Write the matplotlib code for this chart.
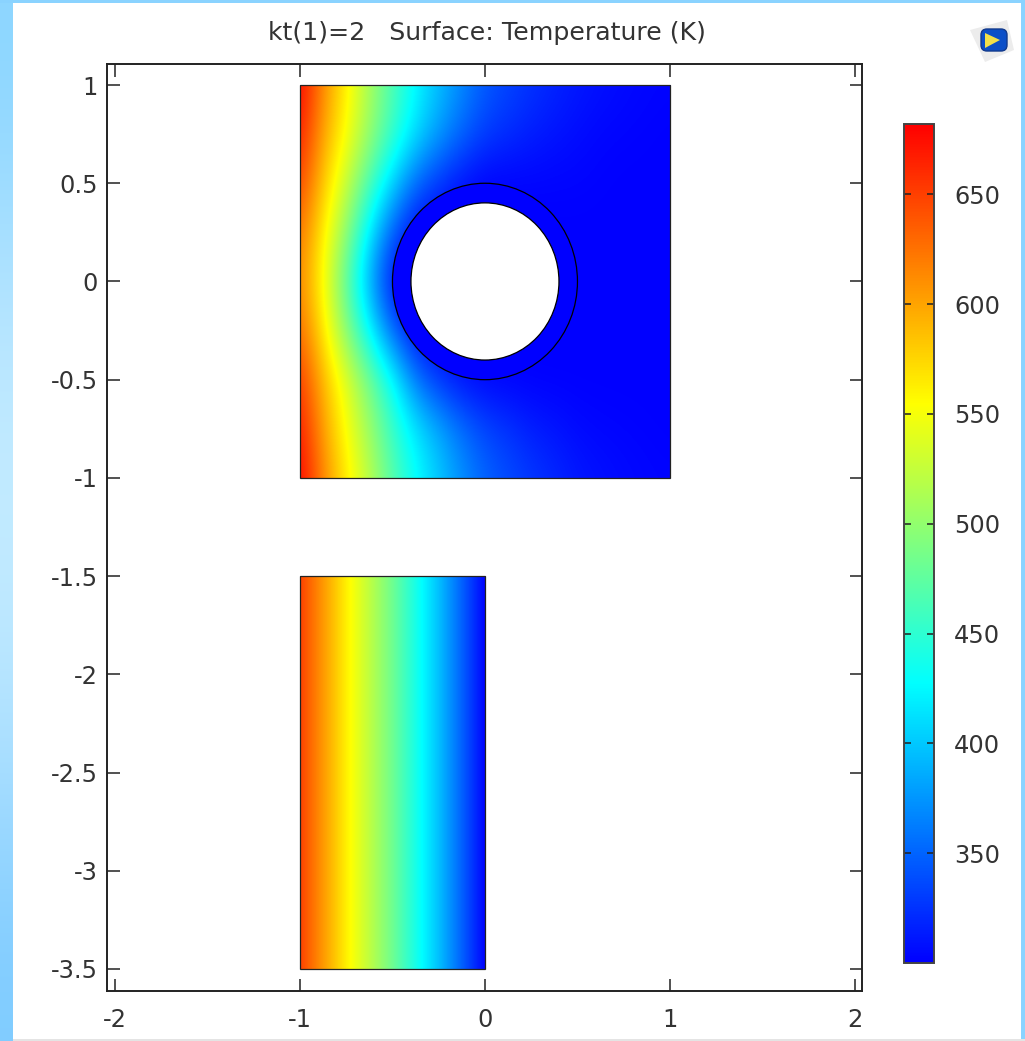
import matplotlib
matplotlib.use('Agg')
import matplotlib.pyplot as plt
from matplotlib.cm import ScalarMappable
from matplotlib.colors import LinearSegmentedColormap, Normalize
from matplotlib.patches import Circle, FancyBboxPatch, Polygon, Rectangle
import numpy as np

# temperature read off the square block, rows go from y=1 down to y=-1,
# columns from x=-1 to x=1 in steps of 0.125
square_t = [
    [682, 612, 562, 510, 465, 425, 395, 368, 345, 334, 325, 318, 312, 308, 305, 303, 302],
    [668, 600, 553, 503, 455, 411, 378, 350, 330, 322, 315, 310, 306, 303, 302, 301, 300],
    [650, 582, 527, 465, 405, 352, 325, 308, 300, 301, 302, 302, 302, 301, 300, 300, 300],
    [625, 563, 498, 418, 345, 302, 300, 300, 300, 300, 300, 300, 300, 300, 300, 300, 300],
    [615, 553, 473, 385, 305, 300, 300, 300, 300, 300, 300, 300, 300, 300, 300, 300, 300],
    [630, 566, 495, 425, 350, 302, 300, 300, 300, 300, 300, 300, 300, 300, 300, 300, 300],
    [655, 590, 540, 485, 430, 360, 325, 308, 302, 301, 300, 300, 300, 300, 300, 300, 300],
    [670, 602, 552, 505, 455, 415, 385, 355, 335, 325, 315, 310, 305, 303, 302, 301, 300],
    [682, 614, 565, 520, 470, 430, 400, 372, 350, 338, 328, 320, 312, 308, 305, 303, 302],
]
# lower block only changes along x, from x=-1 to x=0 in steps of 0.25
strip_t = [650, 562, 482, 395, 300]

x_ticks = [-2, -1, 0, 1, 2]
x_labels = ['-2', '-1', '0', '1', '2']
y_ticks = [1, .5, 0, -.5, -1, -1.5, -2, -2.5, -3, -3.5]
y_labels = ['1', '0.5', '0', '-0.5', '-1', '-1.5', '-2', '-2.5', '-3', '-3.5']
bar_ticks = [350, 400, 450, 500, 550, 600, 650]
t_min, t_max = 300, 682

W, H = 1025, 1041
text_col = '#333333'
line_col = '#222222'
tick_size = 17.4
title_size = 18.2


def px_axes(left, top, right, bottom, **kw):
    return fig.add_axes([left / W, 1 - bottom / H, (right - left) / W, (bottom - top) / H], **kw)


cmap = LinearSegmentedColormap.from_list('rainbow', ['#0000ff', '#00ffff', '#ffff00', '#ff0000'], N=512)
norm = Normalize(t_min, t_max)

fig = plt.figure(figsize=(W / 100, H / 100), dpi=100)

# window border and the little logo
deco = px_axes(0, 0, W, H)
band = np.array([[0.55, 0.84, 1.0], [0.72, 0.90, 1.0], [0.78, 0.93, 1.0], [0.70, 0.89, 1.0], [0.50, 0.80, 1.0]])
deco.imshow(band[:, None, :], extent=(0, 13, H, 0), aspect='auto', interpolation='bicubic')
deco.add_patch(Rectangle((0, 0), W, 3, color='#8ad3ff', lw=0))
deco.add_patch(Rectangle((W - 4, 0), 4, H, color='#8ad3ff', lw=0))
deco.add_patch(Rectangle((13, H - 2), W, 2, color='#e4e4e4', lw=0))
deco.add_patch(Polygon([[970, 30], [1007, 20], [1014, 50], [985, 62]], color='#ececec', lw=0))
deco.add_patch(FancyBboxPatch((981, 29), 26, 22, boxstyle='round,pad=0,rounding_size=6', fc='#0b4fc8', ec='#123a8c', lw=1))
deco.add_patch(Polygon([[985, 33], [1000, 40], [985, 48]], color='#f2e04a', lw=0))
deco.set_xlim(0, W)
deco.set_ylim(H, 0)
deco.axis('off')

ax = px_axes(107, 64, 862, 991)
sq = ax.imshow(square_t, extent=(-1 - .0625, 1 + .0625, -1 - .125, 1 + .125), origin='upper', aspect='auto',
               cmap=cmap, norm=norm, interpolation='bicubic', interpolation_stage='data')
sq.set_clip_path(Rectangle((-1, -1), 2, 2, transform=ax.transData))
st = ax.imshow([strip_t], extent=(-1 - .125, 0 + .125, -3.5, -1.5), aspect='auto',
               cmap=cmap, norm=norm, interpolation='bilinear', interpolation_stage='data')
st.set_clip_path(Rectangle((-1, -3.5), 1, 2, transform=ax.transData))
ax.add_patch(Rectangle((-1, -1), 2, 2, fc='none', ec=line_col, lw=.9))
ax.add_patch(Rectangle((-1, -3.5), 1, 2, fc='none', ec=line_col, lw=.9))
ax.add_patch(Circle((0, 0), .5, fc=cmap(0), ec='black', lw=.9))
ax.add_patch(Circle((0, 0), .4, fc='white', ec='black', lw=.9))

ax.set_xlim(-2.043, 2.038)
ax.set_ylim(-3.612, 1.107)
ax.set_xticks(x_ticks, x_labels)
ax.set_yticks(y_ticks, y_labels)
ax.tick_params(direction='in', top=True, right=True, length=9, width=1.1, color=line_col,
               labelcolor=text_col, labelsize=tick_size, pad=6.5)
ax.tick_params(axis='x', pad=12)
for s in ax.spines.values():
    s.set_linewidth(1.4)
    s.set_color(line_col)
ax.set_title('kt(1)=2   Surface: Temperature (K)', fontsize=title_size, color=text_col, pad=17.5, x=.503)

cax = px_axes(904, 124, 934, 963)
cb = fig.colorbar(ScalarMappable(norm=norm, cmap=cmap), cax=cax)
cb.set_ticks(bar_ticks)
cb.minorticks_off()
cb.outline.set_edgecolor('#444444')
cb.outline.set_linewidth(1.4)
cax.tick_params(direction='in', left=True, right=True, length=5, width=1.1, color=line_col,
                labelcolor=text_col, labelsize=tick_size, pad=14.5)

fig.savefig('out.png', dpi=100)
